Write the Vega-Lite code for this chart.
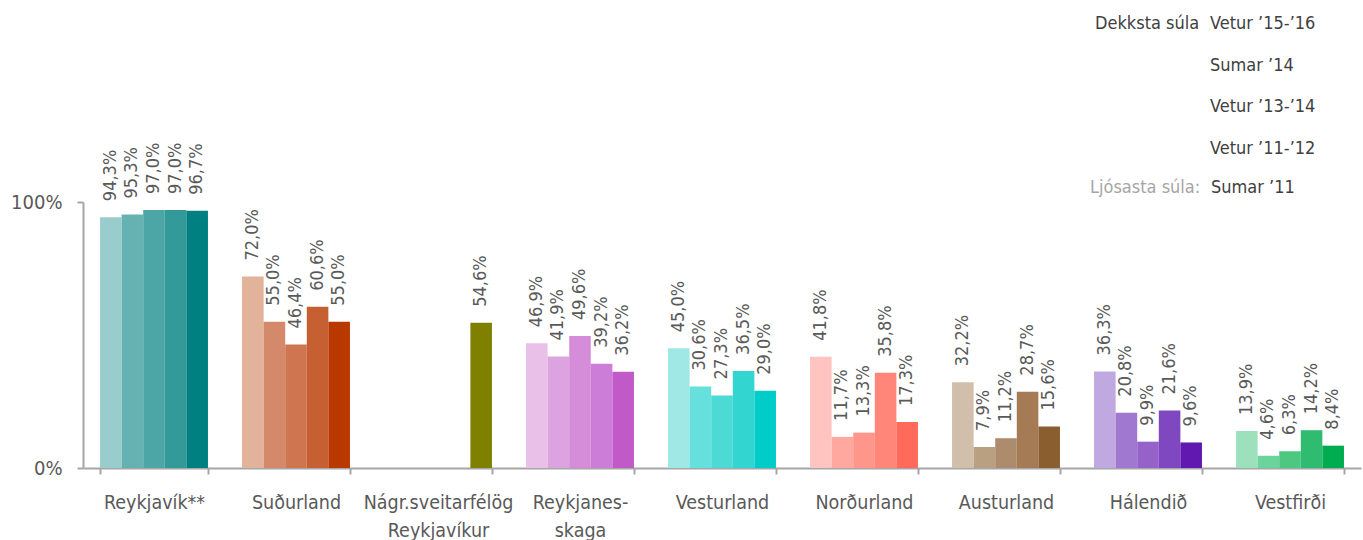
{
  "$schema": "https://vega.github.io/schema/vega-lite/v6.json",
  "width": 1278,
  "height": 266,
  "autosize": {"type": "none"},
  "padding": {"left": 83, "top": 202, "right": 2, "bottom": 72},
  "background": "white",
  "config": {
    "font": "DejaVu Sans Condensed",
    "view": {"stroke": null},
    "locale": {"number": {"decimal": ",", "thousands": ".", "grouping": [3], "currency": ["", " kr."]}}
  },
  "data": {
    "values": [
      {"region": "Reykjavík**", "period": "Sumar ’11", "value": 0.943},
      {"region": "Reykjavík**", "period": "Vetur ’11-’12", "value": 0.953},
      {"region": "Reykjavík**", "period": "Vetur ’13-’14", "value": 0.970},
      {"region": "Reykjavík**", "period": "Sumar ’14", "value": 0.970},
      {"region": "Reykjavík**", "period": "Vetur ’15-’16", "value": 0.967},
      {"region": "Suðurland", "period": "Sumar ’11", "value": 0.720},
      {"region": "Suðurland", "period": "Vetur ’11-’12", "value": 0.550},
      {"region": "Suðurland", "period": "Vetur ’13-’14", "value": 0.464},
      {"region": "Suðurland", "period": "Sumar ’14", "value": 0.606},
      {"region": "Suðurland", "period": "Vetur ’15-’16", "value": 0.550},
      {"region": "Nágr.sveitarfélög Reykjavíkur", "period": "Vetur ’15-’16", "value": 0.546},
      {"region": "Reykjanes-skaga", "period": "Sumar ’11", "value": 0.469},
      {"region": "Reykjanes-skaga", "period": "Vetur ’11-’12", "value": 0.419},
      {"region": "Reykjanes-skaga", "period": "Vetur ’13-’14", "value": 0.496},
      {"region": "Reykjanes-skaga", "period": "Sumar ’14", "value": 0.392},
      {"region": "Reykjanes-skaga", "period": "Vetur ’15-’16", "value": 0.362},
      {"region": "Vesturland", "period": "Sumar ’11", "value": 0.450},
      {"region": "Vesturland", "period": "Vetur ’11-’12", "value": 0.306},
      {"region": "Vesturland", "period": "Vetur ’13-’14", "value": 0.273},
      {"region": "Vesturland", "period": "Sumar ’14", "value": 0.365},
      {"region": "Vesturland", "period": "Vetur ’15-’16", "value": 0.290},
      {"region": "Norðurland", "period": "Sumar ’11", "value": 0.418},
      {"region": "Norðurland", "period": "Vetur ’11-’12", "value": 0.117},
      {"region": "Norðurland", "period": "Vetur ’13-’14", "value": 0.133},
      {"region": "Norðurland", "period": "Sumar ’14", "value": 0.358},
      {"region": "Norðurland", "period": "Vetur ’15-’16", "value": 0.173},
      {"region": "Austurland", "period": "Sumar ’11", "value": 0.322},
      {"region": "Austurland", "period": "Vetur ’11-’12", "value": 0.079},
      {"region": "Austurland", "period": "Vetur ’13-’14", "value": 0.112},
      {"region": "Austurland", "period": "Sumar ’14", "value": 0.287},
      {"region": "Austurland", "period": "Vetur ’15-’16", "value": 0.156},
      {"region": "Hálendið", "period": "Sumar ’11", "value": 0.363},
      {"region": "Hálendið", "period": "Vetur ’11-’12", "value": 0.208},
      {"region": "Hálendið", "period": "Vetur ’13-’14", "value": 0.099},
      {"region": "Hálendið", "period": "Sumar ’14", "value": 0.216},
      {"region": "Hálendið", "period": "Vetur ’15-’16", "value": 0.096},
      {"region": "Vestfirði", "period": "Sumar ’11", "value": 0.139},
      {"region": "Vestfirði", "period": "Vetur ’11-’12", "value": 0.046},
      {"region": "Vestfirði", "period": "Vetur ’13-’14", "value": 0.063},
      {"region": "Vestfirði", "period": "Sumar ’14", "value": 0.142},
      {"region": "Vestfirði", "period": "Vetur ’15-’16", "value": 0.084}
    ]
  },
  "transform": [{"calculate": "datum.region + ' | ' + datum.period", "as": "key"}],
  "encoding": {
    "x": {
      "field": "region",
      "type": "nominal",
      "sort": ["Reykjavík**", "Suðurland", "Nágr.sveitarfélög Reykjavíkur", "Reykjanes-skaga", "Vesturland", "Norðurland", "Austurland", "Hálendið", "Vestfirði"],
      "scale": {"paddingInner": 0.24, "paddingOuter": 0.12},
      "axis": {
        "title": null,
        "labelAngle": 0,
        "labelFontSize": 19.5,
        "labelColor": "#595959",
        "labelPadding": 19,
        "labelLineHeight": 28,
        "labelBaseline": "top",
        "domainColor": "#a6a6a6",
        "domainWidth": 2,
        "tickColor": "#a6a6a6",
        "tickWidth": 2,
        "tickSize": 6,
        "tickBand": "extent",
        "labelExpr": "datum.value == 'Nágr.sveitarfélög Reykjavíkur' ? ['Nágr.sveitarfélög', 'Reykjavíkur'] : datum.value == 'Reykjanes-skaga' ? ['Reykjanes-', 'skaga'] : datum.label"
      }
    },
    "xOffset": {
      "field": "period",
      "type": "nominal",
      "sort": ["Sumar ’11", "Vetur ’11-’12", "Vetur ’13-’14", "Sumar ’14", "Vetur ’15-’16"],
      "scale": {"paddingInner": 0, "paddingOuter": 0}
    },
    "y": {
      "field": "value",
      "type": "quantitative",
      "scale": {"domain": [0, 1], "nice": false},
      "axis": {
        "title": null,
        "values": [0, 1],
        "format": ".0%",
        "grid": false,
        "labelFontSize": 20,
        "labelColor": "#595959",
        "labelPadding": 15,
        "domainColor": "#a6a6a6",
        "domainWidth": 2,
        "tickColor": "#a6a6a6",
        "tickWidth": 2,
        "tickSize": 6
      }
    }
  },
  "layer": [
    {
      "mark": {"type": "bar"},
      "encoding": {
        "color": {
          "field": "key",
          "type": "nominal",
          "scale": {
            "domain": [
              "Reykjavík** | Sumar ’11", "Reykjavík** | Vetur ’11-’12", "Reykjavík** | Vetur ’13-’14", "Reykjavík** | Sumar ’14", "Reykjavík** | Vetur ’15-’16",
              "Suðurland | Sumar ’11", "Suðurland | Vetur ’11-’12", "Suðurland | Vetur ’13-’14", "Suðurland | Sumar ’14", "Suðurland | Vetur ’15-’16",
              "Nágr.sveitarfélög Reykjavíkur | Vetur ’15-’16",
              "Reykjanes-skaga | Sumar ’11", "Reykjanes-skaga | Vetur ’11-’12", "Reykjanes-skaga | Vetur ’13-’14", "Reykjanes-skaga | Sumar ’14", "Reykjanes-skaga | Vetur ’15-’16",
              "Vesturland | Sumar ’11", "Vesturland | Vetur ’11-’12", "Vesturland | Vetur ’13-’14", "Vesturland | Sumar ’14", "Vesturland | Vetur ’15-’16",
              "Norðurland | Sumar ’11", "Norðurland | Vetur ’11-’12", "Norðurland | Vetur ’13-’14", "Norðurland | Sumar ’14", "Norðurland | Vetur ’15-’16",
              "Austurland | Sumar ’11", "Austurland | Vetur ’11-’12", "Austurland | Vetur ’13-’14", "Austurland | Sumar ’14", "Austurland | Vetur ’15-’16",
              "Hálendið | Sumar ’11", "Hálendið | Vetur ’11-’12", "Hálendið | Vetur ’13-’14", "Hálendið | Sumar ’14", "Hálendið | Vetur ’15-’16",
              "Vestfirði | Sumar ’11", "Vestfirði | Vetur ’11-’12", "Vestfirði | Vetur ’13-’14", "Vestfirði | Sumar ’14", "Vestfirði | Vetur ’15-’16"
            ],
            "range": [
              "#99cccc", "#66b2b2", "#4ca6a6", "#339999", "#008080",
              "#e3b29a", "#d4896a", "#cf7650", "#c66033", "#b83800",
              "#808000",
              "#e8c0e8", "#dca3e0", "#d58cd9", "#cc7dd8", "#c05ac8",
              "#a0e8e6", "#66e0dc", "#4dd9d5", "#33d5d0", "#00ccc8",
              "#ffc4c0", "#ffa8a0", "#ff968c", "#ff8678", "#ff6a5a",
              "#d1bfab", "#b9a080", "#ac8c6c", "#a47b54", "#8b5e30",
              "#c0a8e0", "#a078d0", "#9462c8", "#8048c0", "#6018b0",
              "#9ce0bc", "#6ad49c", "#4cc880", "#30bc70", "#00ac50"
            ]
          },
          "legend": {
            "values": ["Reykjavík** | Vetur ’15-’16", "Reykjavík** | Sumar ’14", "Reykjavík** | Vetur ’13-’14", "Reykjavík** | Vetur ’11-’12"],
            "labelExpr": "split(datum.label, ' | ')[1]",
            "orient": "none",
            "legendX": 1012,
            "legendY": -187,
            "title": "Dekksta súla",
            "titleOrient": "left",
            "titleAnchor": "start",
            "titleBaseline": "top",
            "titleFontSize": 18,
            "titleFontWeight": "normal",
            "titleColor": "#404040",
            "titlePadding": 8,
            "symbolSize": 0,
            "symbolOpacity": 0,
            "symbolStrokeWidth": 0,
            "labelOffset": -16,
            "labelFontSize": 18,
            "labelColor": "#404040",
            "rowPadding": 23.5
          }
        },
        "opacity": {
          "field": "period",
          "type": "nominal",
          "scale": {"range": [1, 1]},
          "legend": {
            "values": ["Sumar ’11"],
            "orient": "none",
            "legendX": 1007,
            "legendY": -23,
            "title": "Ljósasta súla:",
            "titleOrient": "left",
            "titleAnchor": "start",
            "titleBaseline": "top",
            "titleFontSize": 18,
            "titleFontWeight": "normal",
            "titleColor": "#a6a6a6",
            "titlePadding": 8,
            "symbolSize": 0,
            "symbolOpacity": 0,
            "symbolStrokeWidth": 0,
            "labelOffset": -16,
            "labelFontSize": 18,
            "labelColor": "#404040"
          }
        }
      }
    },
    {
      "mark": {"type": "text", "angle": 270, "align": "left", "baseline": "middle", "dx": 16, "fontSize": 18, "color": "#595959"},
      "encoding": {
        "text": {"field": "value", "type": "quantitative", "format": ".1%"}
      }
    }
  ]
}
